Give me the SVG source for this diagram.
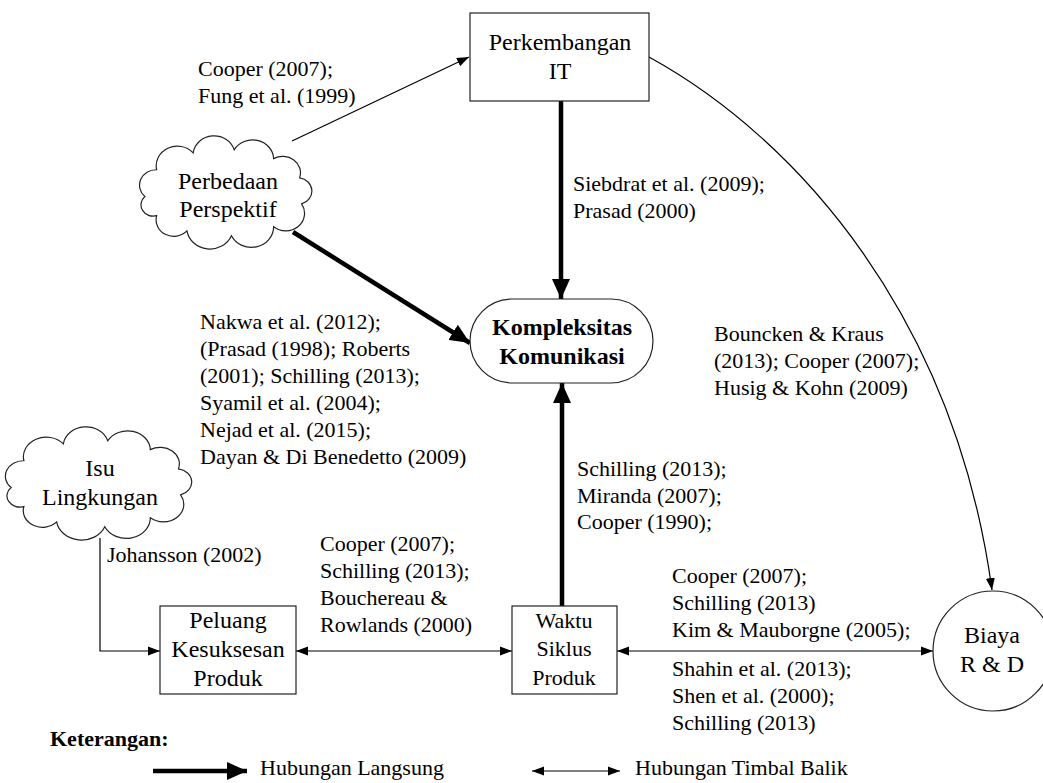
<svg xmlns="http://www.w3.org/2000/svg" width="1043" height="783" viewBox="0 0 1043 783">
  <style>
    text { font-family: "Liberation Serif", "Times New Roman", Times, serif; fill: #000; }
    .node { font-size: 24px; text-anchor: middle; }
    .node-sm { font-size: 22px; text-anchor: middle; }
    .bold { font-weight: bold; }
    .lbl { font-size: 22px; }
    .shape { fill: #fff; stroke: #222; stroke-width: 1.2; }
    .thin { fill: none; stroke: #000; stroke-width: 1.2; }
    .thick { fill: none; stroke: #000; stroke-width: 4.5; }
  </style>
  <defs>
    <marker id="tip" markerUnits="userSpaceOnUse" markerWidth="13" markerHeight="10" refX="12" refY="5" orient="auto">
      <path d="M0,0.5 L12,5 L0,9.5 z" fill="#000"/>
    </marker>
    <marker id="tip-start" markerUnits="userSpaceOnUse" markerWidth="13" markerHeight="10" refX="0" refY="5" orient="auto">
      <path d="M12,0.5 L0,5 L12,9.5 z" fill="#000"/>
    </marker>
    <marker id="bigtip" markerUnits="userSpaceOnUse" markerWidth="21" markerHeight="18" refX="20" refY="9" orient="auto">
      <path d="M0,0 L20,9 L0,18 z" fill="#000"/>
    </marker>
    <!-- cloud outline, local box about 155 x 110 (x 10..165, y 2..112) -->
    <path id="cloud" vector-effect="non-scaling-stroke" d="M14.3,60.7 A15,15 0 0 1 24.9,34.7 A19,19 0 0 1 57.8,18.3 A19,19 0 0 1 94.8,15.3 A19,19 0 0 1 130.3,23.9 A16,16 0 0 1 153.7,42.6 A13,13 0 0 1 155.5,67.9 A17,17 0 0 1 130.3,90.1 A20,20 0 0 1 92.3,98.8 A21,21 0 0 1 52.2,94.1 A16,16 0 0 1 24.9,79.3 A11,11 0 0 1 14.3,60.7 Z"/>
  </defs>

  <!-- connectors -->
  <g id="connectors">
    <line class="thin" x1="292" y1="141" x2="469" y2="57" marker-end="url(#tip)"/>
    <line class="thick" x1="561" y1="101" x2="561" y2="299" marker-end="url(#bigtip)"/>
    <line class="thick" x1="293" y1="232" x2="470" y2="343" marker-end="url(#bigtip)"/>
    <line class="thick" x1="562" y1="606" x2="562" y2="383" marker-end="url(#bigtip)"/>
    <path class="thin" d="M649,57 C800,140 955,320 992,590" marker-end="url(#tip)"/>
    <path class="thin" d="M100,538 V651 H160" marker-end="url(#tip)"/>
    <line class="thin" x1="296" y1="651" x2="512" y2="651" marker-start="url(#tip-start)" marker-end="url(#tip)"/>
    <line class="thin" x1="617" y1="651" x2="933" y2="651" marker-start="url(#tip-start)" marker-end="url(#tip)"/>
  </g>

  <!-- connector labels -->
  <g id="labels">
    <text class="lbl" x="198" y="76">Cooper (2007);</text>
    <text class="lbl" x="198" y="103">Fung et al. (1999)</text>
    <text class="lbl" x="573" y="191">Siebdrat et al. (2009);</text>
    <text class="lbl" x="573" y="218">Prasad (2000)</text>
    <text class="lbl" x="200" y="329">Nakwa et al. (2012);</text>
    <text class="lbl" x="200" y="356">(Prasad (1998); Roberts</text>
    <text class="lbl" x="200" y="383">(2001); Schilling (2013);</text>
    <text class="lbl" x="200" y="410">Syamil et al. (2004);</text>
    <text class="lbl" x="200" y="437">Nejad et al. (2015);</text>
    <text class="lbl" x="200" y="464">Dayan &amp; Di Benedetto (2009)</text>
    <text class="lbl" x="714" y="341">Bouncken &amp; Kraus</text>
    <text class="lbl" x="714" y="368">(2013); Cooper (2007);</text>
    <text class="lbl" x="714" y="395">Husig &amp; Kohn (2009)</text>
    <text class="lbl" x="577" y="476">Schilling (2013);</text>
    <text class="lbl" x="577" y="503">Miranda (2007);</text>
    <text class="lbl" x="577" y="529">Cooper (1990);</text>
    <text class="lbl" x="107" y="562">Johansson (2002)</text>
    <text class="lbl" x="320" y="551">Cooper (2007);</text>
    <text class="lbl" x="320" y="578">Schilling (2013);</text>
    <text class="lbl" x="320" y="605">Bouchereau &amp;</text>
    <text class="lbl" x="320" y="632">Rowlands (2000)</text>
    <text class="lbl" x="672" y="583">Cooper (2007);</text>
    <text class="lbl" x="672" y="610">Schilling (2013)</text>
    <text class="lbl" x="672" y="637">Kim &amp; Mauborgne (2005);</text>
    <text class="lbl" x="672" y="676">Shahin et al. (2013);</text>
    <text class="lbl" x="672" y="703">Shen et al. (2000);</text>
    <text class="lbl" x="672" y="730">Schilling (2013)</text>
  </g>

  <!-- nodes -->
  <g id="perkembangan-it">
    <rect class="shape" x="470" y="13" width="179" height="88"/>
    <text class="node" x="560" y="50">Perkembangan</text>
    <text class="node" x="560" y="79">IT</text>
  </g>
  <g id="perbedaan-perspektif">
    <use href="#cloud" class="shape" transform="translate(129,134) scale(1.11,1.03)"/>
    <text class="node" x="228" y="189">Perbedaan</text>
    <text class="node" x="228" y="217">Perspektif</text>
  </g>
  <g id="kompleksitas-komunikasi">
    <rect class="shape" x="470" y="299" width="183" height="84" rx="42" ry="42"/>
    <text class="node bold" x="562" y="335">Kompleksitas</text>
    <text class="node bold" x="562" y="364">Komunikasi</text>
  </g>
  <g id="isu-lingkungan">
    <use href="#cloud" class="shape" transform="translate(-6,425) scale(1.2,1.03)"/>
    <text class="node" x="100" y="476">Isu</text>
    <text class="node" x="100" y="505">Lingkungan</text>
  </g>
  <g id="peluang-kesuksesan-produk">
    <rect class="shape" x="160" y="606" width="136" height="88"/>
    <text class="node" x="228" y="628">Peluang</text>
    <text class="node" x="228" y="657">Kesuksesan</text>
    <text class="node" x="228" y="686">Produk</text>
  </g>
  <g id="waktu-siklus-produk">
    <rect class="shape" x="512" y="606" width="105" height="88"/>
    <text class="node-sm" x="564" y="628">Waktu</text>
    <text class="node-sm" x="564" y="656">Siklus</text>
    <text class="node-sm" x="564" y="685">Produk</text>
  </g>
  <g id="biaya-rd">
    <circle class="shape" cx="993" cy="651" r="60"/>
    <text class="node" x="992" y="643">Biaya</text>
    <text class="node" x="992" y="672">R &amp; D</text>
  </g>

  <!-- legend -->
  <g id="legend">
    <text class="lbl bold" x="50" y="746">Keterangan:</text>
    <line class="thick" x1="153" y1="771" x2="247" y2="771" marker-end="url(#bigtip)"/>
    <text class="lbl" x="260" y="775">Hubungan Langsung</text>
    <line class="thin" x1="532" y1="771" x2="620" y2="771" marker-start="url(#tip-start)" marker-end="url(#tip)"/>
    <text class="lbl" x="635" y="775">Hubungan Timbal Balik</text>
  </g>
</svg>
